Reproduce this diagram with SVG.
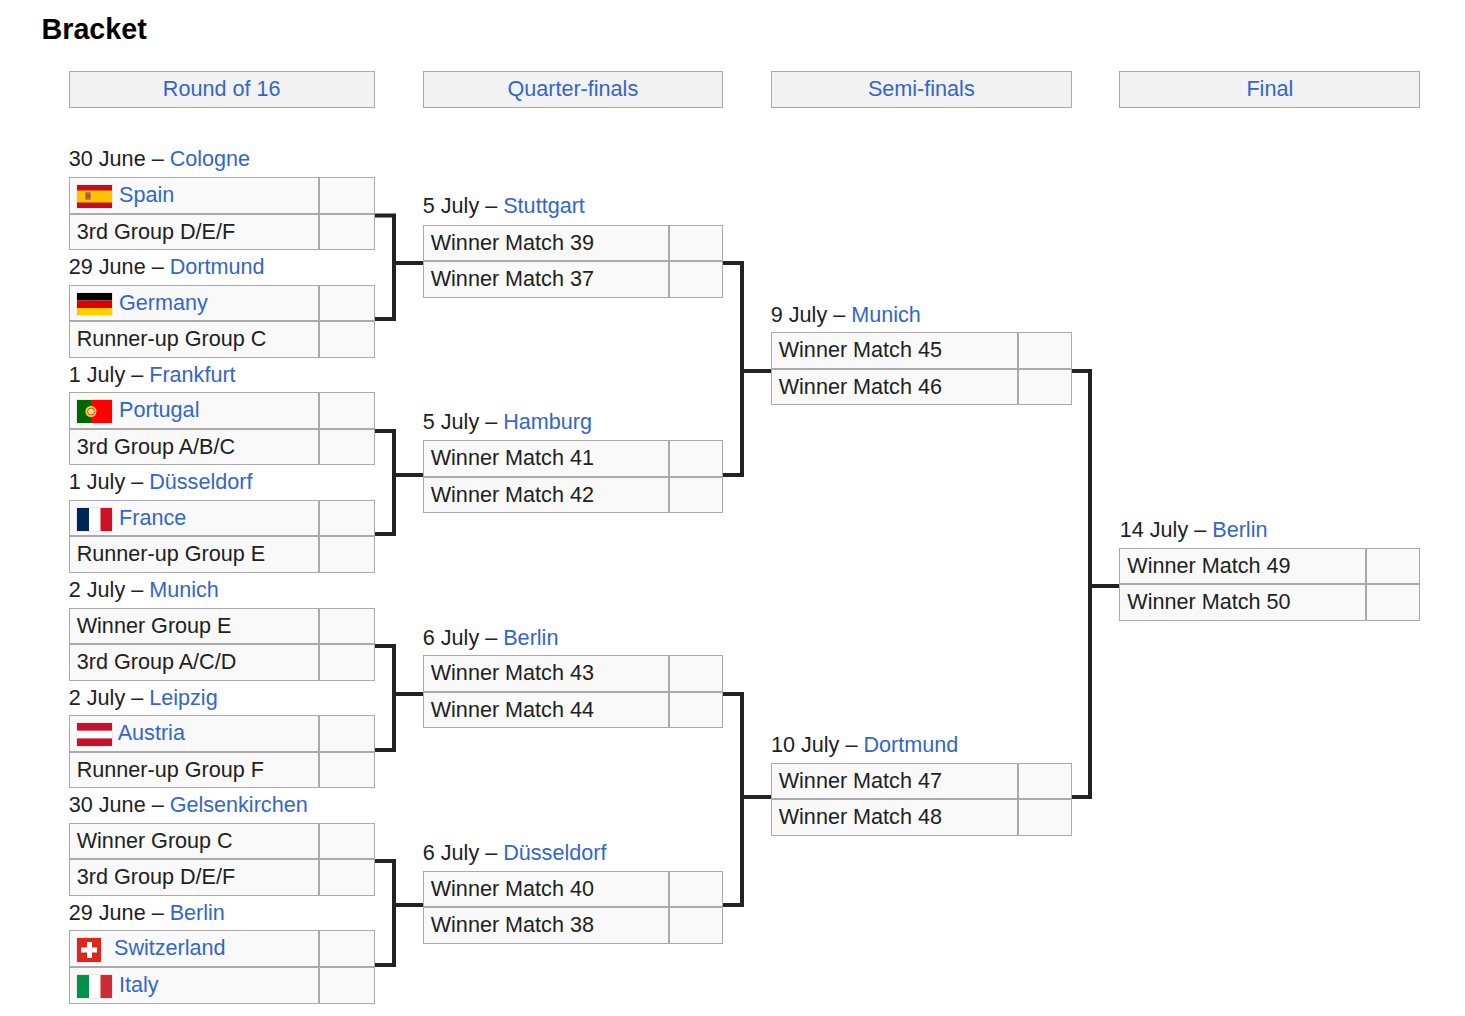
<svg xmlns="http://www.w3.org/2000/svg" width="1465" height="1016" viewBox="0 0 1465 1016">
<style>
text{font-family:"Liberation Sans",Arial,sans-serif;font-size:21.6px;fill:#202122}
.title{font-weight:700;font-size:28.7px;fill:#000}
.link{fill:#3366cc}
.mid{text-anchor:middle}
.head{fill:#f2f2f2;stroke:#aaa}
.cell{fill:#f9f9f9;stroke:#aaa}
.frame{fill:none;stroke:#e8e8e8}
.conn{fill:none;stroke:#222;stroke-width:4}
</style>
<rect width="1465" height="1016" fill="#fff"/>
<text class="title" x="41.5" y="39">Bracket</text>

<g id="round-headers">
<rect class="head" x="69.5" y="71.5" width="305" height="36"/><text class="link mid" x="221.700" y="96">Round of 16</text>
<rect class="head" x="423.5" y="71.5" width="299" height="36"/><text class="link mid" x="572.800" y="96">Quarter-finals</text>
<rect class="head" x="771.5" y="71.5" width="300" height="36"/><text class="link mid" x="921.300" y="96">Semi-finals</text>
<rect class="head" x="1119.5" y="71.5" width="300" height="36"/><text class="link mid" x="1269.800" y="96">Final</text>
</g>

<g id="connectors">
<path class="conn" d="M375 215.500H394V319H375M396 263H423"/>
<path class="conn" d="M375 431H394V534H375M396 475H423"/>
<path class="conn" d="M375 646H394V750H375M396 694H423"/>
<path class="conn" d="M375 861H394V965H375M396 905H423"/>
<path class="conn" d="M723 263H742V475H723M744 371H771"/>
<path class="conn" d="M723 694H742V905H723M744 797H771"/>
<path class="conn" d="M1072 371H1090V797H1072M1092 586H1119"/>
</g>

<g id="match-cologne">
<text x="68.800" y="166">30 June – <tspan class="link">Cologne</tspan></text>
<rect class="cell" x="69.5" y="177.5" width="249" height="36"/><rect class="cell" x="319.5" y="177.5" width="55" height="36"/>
<rect class="cell" x="69.5" y="214.5" width="249" height="35"/><rect class="cell" x="319.5" y="214.5" width="55" height="35"/>
<rect x="77" y="185" width="35" height="23" fill="#c60b1e"/><rect x="77" y="190.500" width="35" height="12" fill="#ffc400"/>
<rect x="85" y="192" width="6" height="8" rx="2" fill="#ad7a3a"/><rect x="86.500" y="194" width="3" height="4" fill="#c8452f"/>
<rect class="frame" x="76.500" y="184.500" width="36" height="24"/>
<text class="link" x="119" y="202">Spain</text>
<text x="76.700" y="239">3rd Group D/E/F</text>
</g>

<g id="match-dortmund">
<text x="68.800" y="274">29 June – <tspan class="link">Dortmund</tspan></text>
<rect class="cell" x="69.5" y="285.5" width="249" height="35"/><rect class="cell" x="319.5" y="285.5" width="55" height="35"/>
<rect class="cell" x="69.5" y="321.5" width="249" height="36"/><rect class="cell" x="319.5" y="321.5" width="55" height="36"/>
<rect x="77" y="293" width="35" height="7.500" fill="#000"/><rect x="77" y="300.500" width="35" height="7.500" fill="#d00"/><rect x="77" y="308" width="35" height="7.500" fill="#ffce00"/>
<rect class="frame" x="76.500" y="292.500" width="36" height="23"/>
<text class="link" x="119" y="310">Germany</text>
<text x="76.700" y="346">Runner-up Group C</text>
</g>

<g id="match-frankfurt">
<text x="68.800" y="382">1 July – <tspan class="link">Frankfurt</tspan></text>
<rect class="cell" x="69.5" y="392.5" width="249" height="36"/><rect class="cell" x="319.5" y="392.5" width="55" height="36"/>
<rect class="cell" x="69.5" y="429.5" width="249" height="35"/><rect class="cell" x="319.5" y="429.5" width="55" height="35"/>
<rect x="77" y="400" width="35" height="23" fill="#f00"/><rect x="77" y="400" width="14" height="23" fill="#060"/>
<circle cx="91" cy="411.500" r="5.500" fill="#ffe500"/><circle cx="91" cy="411.500" r="3.500" fill="#e8d9b0" stroke="#c8452f"/>
<rect class="frame" x="76.500" y="399.500" width="36" height="24"/>
<text class="link" x="119" y="417">Portugal</text>
<text x="76.700" y="454">3rd Group A/B/C</text>
</g>

<g id="match-dusseldorf-r16">
<text x="68.800" y="489">1 July – <tspan class="link">Düsseldorf</tspan></text>
<rect class="cell" x="69.5" y="500.5" width="249" height="35"/><rect class="cell" x="319.5" y="500.5" width="55" height="35"/>
<rect class="cell" x="69.5" y="536.5" width="249" height="36"/><rect class="cell" x="319.5" y="536.5" width="55" height="36"/>
<rect x="77" y="508" width="12" height="23" fill="#002654"/><rect x="89" y="508" width="11.500" height="23" fill="#fff"/><rect x="100.500" y="508" width="11.500" height="23" fill="#ce1126"/>
<rect class="frame" x="76.500" y="507.500" width="36" height="24"/>
<text class="link" x="119" y="524.500">France</text>
<text x="76.700" y="561">Runner-up Group E</text>
</g>

<g id="match-munich-r16">
<text x="68.800" y="597">2 July – <tspan class="link">Munich</tspan></text>
<rect class="cell" x="69.5" y="608.5" width="249" height="35"/><rect class="cell" x="319.5" y="608.5" width="55" height="35"/>
<rect class="cell" x="69.5" y="644.5" width="249" height="36"/><rect class="cell" x="319.5" y="644.5" width="55" height="36"/>
<text x="76.700" y="633">Winner Group E</text>
<text x="76.700" y="669">3rd Group A/C/D</text>
</g>

<g id="match-leipzig">
<text x="68.800" y="705">2 July – <tspan class="link">Leipzig</tspan></text>
<rect class="cell" x="69.5" y="715.5" width="249" height="36"/><rect class="cell" x="319.5" y="715.5" width="55" height="36"/>
<rect class="cell" x="69.5" y="752.5" width="249" height="35"/><rect class="cell" x="319.5" y="752.5" width="55" height="35"/>
<rect x="77" y="723" width="35" height="7.800" fill="#c8102e"/><rect x="77" y="730.800" width="35" height="7.600" fill="#fff"/><rect x="77" y="738.400" width="35" height="7.600" fill="#c8102e"/>
<rect class="frame" x="76.500" y="722.500" width="36" height="24"/>
<text class="link" x="117.700" y="740">Austria</text>
<text x="76.700" y="777">Runner-up Group F</text>
</g>

<g id="match-gelsenkirchen">
<text x="68.800" y="812">30 June – <tspan class="link">Gelsenkirchen</tspan></text>
<rect class="cell" x="69.5" y="823.5" width="249" height="35"/><rect class="cell" x="319.5" y="823.5" width="55" height="35"/>
<rect class="cell" x="69.5" y="859.5" width="249" height="36"/><rect class="cell" x="319.5" y="859.5" width="55" height="36"/>
<text x="76.700" y="848">Winner Group C</text>
<text x="76.700" y="884">3rd Group D/E/F</text>
</g>

<g id="match-berlin-r16">
<text x="68.800" y="920">29 June – <tspan class="link">Berlin</tspan></text>
<rect class="cell" x="69.5" y="930.5" width="249" height="36"/><rect class="cell" x="319.5" y="930.5" width="55" height="36"/>
<rect class="cell" x="69.5" y="967.5" width="249" height="36"/><rect class="cell" x="319.5" y="967.5" width="55" height="36"/>
<rect x="77" y="938" width="24" height="24" fill="#da291c"/><rect x="87" y="942" width="5" height="16" fill="#fff"/><rect x="81" y="947.500" width="16" height="5" fill="#fff"/>
<rect class="frame" x="76.500" y="937.500" width="25" height="25"/>
<text class="link" x="114" y="955">Switzerland</text>
<rect x="77" y="975" width="12" height="23" fill="#009246"/><rect x="89" y="975" width="11.500" height="23" fill="#fff"/><rect x="100.500" y="975" width="11.500" height="23" fill="#ce2b37"/>
<rect class="frame" x="76.500" y="974.500" width="36" height="24"/>
<text class="link" x="119" y="992">Italy</text>
</g>

<g id="match-stuttgart">
<text x="422.800" y="213">5 July – <tspan class="link">Stuttgart</tspan></text>
<rect class="cell" x="423.5" y="225.5" width="245" height="35"/><rect class="cell" x="669.5" y="225.5" width="53" height="35"/>
<rect class="cell" x="423.5" y="261.5" width="245" height="36"/><rect class="cell" x="669.5" y="261.5" width="53" height="36"/>
<text x="430.700" y="250">Winner Match 39</text>
<text x="430.700" y="286">Winner Match 37</text>
</g>

<g id="match-hamburg">
<text x="422.800" y="429">5 July – <tspan class="link">Hamburg</tspan></text>
<rect class="cell" x="423.5" y="440.5" width="245" height="36"/><rect class="cell" x="669.5" y="440.5" width="53" height="36"/>
<rect class="cell" x="423.5" y="477.5" width="245" height="35"/><rect class="cell" x="669.5" y="477.5" width="53" height="35"/>
<text x="430.700" y="465">Winner Match 41</text>
<text x="430.700" y="502">Winner Match 42</text>
</g>

<g id="match-berlin-qf">
<text x="422.800" y="645">6 July – <tspan class="link">Berlin</tspan></text>
<rect class="cell" x="423.5" y="655.5" width="245" height="36"/><rect class="cell" x="669.5" y="655.5" width="53" height="36"/>
<rect class="cell" x="423.5" y="692.5" width="245" height="35"/><rect class="cell" x="669.5" y="692.5" width="53" height="35"/>
<text x="430.700" y="680">Winner Match 43</text>
<text x="430.700" y="717">Winner Match 44</text>
</g>

<g id="match-dusseldorf-qf">
<text x="422.800" y="860">6 July – <tspan class="link">Düsseldorf</tspan></text>
<rect class="cell" x="423.5" y="871.5" width="245" height="35"/><rect class="cell" x="669.5" y="871.5" width="53" height="35"/>
<rect class="cell" x="423.5" y="907.5" width="245" height="36"/><rect class="cell" x="669.5" y="907.5" width="53" height="36"/>
<text x="430.700" y="896">Winner Match 40</text>
<text x="430.700" y="932">Winner Match 38</text>
</g>

<g id="match-munich-sf">
<text x="770.800" y="322">9 July – <tspan class="link">Munich</tspan></text>
<rect class="cell" x="771.5" y="332.5" width="246" height="36"/><rect class="cell" x="1018.5" y="332.5" width="53" height="36"/>
<rect class="cell" x="771.5" y="369.5" width="246" height="35"/><rect class="cell" x="1018.5" y="369.5" width="53" height="35"/>
<text x="778.700" y="357">Winner Match 45</text>
<text x="778.700" y="394">Winner Match 46</text>
</g>

<g id="match-dortmund-sf">
<text x="771" y="752">10 July – <tspan class="link">Dortmund</tspan></text>
<rect class="cell" x="771.5" y="763.5" width="246" height="35"/><rect class="cell" x="1018.5" y="763.5" width="53" height="35"/>
<rect class="cell" x="771.5" y="799.5" width="246" height="36"/><rect class="cell" x="1018.5" y="799.5" width="53" height="36"/>
<text x="778.700" y="788">Winner Match 47</text>
<text x="778.700" y="824">Winner Match 48</text>
</g>

<g id="match-final">
<text x="1119.800" y="537">14 July – <tspan class="link">Berlin</tspan></text>
<rect class="cell" x="1119.5" y="548.5" width="246" height="35"/><rect class="cell" x="1366.5" y="548.5" width="53" height="35"/>
<rect class="cell" x="1119.5" y="584.5" width="246" height="36"/><rect class="cell" x="1366.5" y="584.5" width="53" height="36"/>
<text x="1127.300" y="573">Winner Match 49</text>
<text x="1127.300" y="609">Winner Match 50</text>
</g>
</svg>
